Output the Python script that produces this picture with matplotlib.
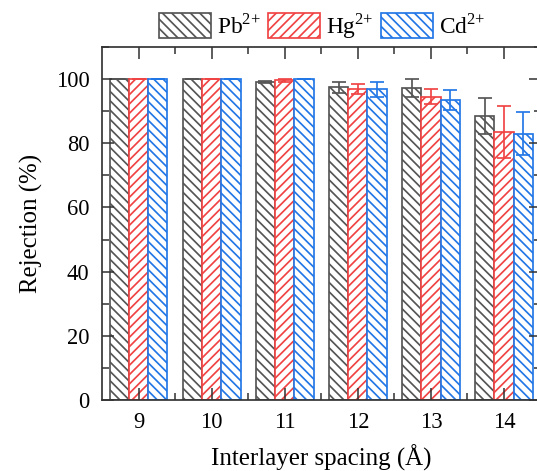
import numpy as np
import matplotlib
matplotlib.use("Agg")
import matplotlib.pyplot as plt
from matplotlib.ticker import FixedLocator, MultipleLocator

plt.rcParams['font.family'] = ['Liberation Serif', 'DejaVu Serif']
plt.rcParams['mathtext.fontset'] = 'custom'
plt.rcParams['mathtext.rm'] = 'Liberation Serif'
plt.rcParams['hatch.linewidth'] = 1.1

# data
spacing = ['9', '10', '11', '12', '13', '14']
pb = [100, 100, 99.1, 97.4, 97.1, 88.5]
pb_err = [0, 0, 0.4, 1.7, 2.8, 5.7]
hg = [100, 100, 99.6, 96.9, 94.5, 83.5]
hg_err = [0, 0, 0.5, 1.5, 2.4, 8.0]
cd = [100, 100, 100, 96.8, 93.5, 83.0]
cd_err = [0, 0, 0, 2.4, 3.0, 6.8]

series = [
    (r'Pb$^{\mathrm{2{+}}}$', pb, pb_err, '#555555', '\\\\\\\\'),
    (r'Hg$^{\mathrm{2{+}}}$', hg, hg_err, '#f04343', '////'),
    (r'Cd$^{\mathrm{2{+}}}$', cd, cd_err, '#2277e6', '\\\\\\\\'),
]

dpi = 112
fig = plt.figure(figsize=(537.01 / dpi, 471.01 / dpi), dpi=dpi)
ax = fig.add_axes([102 / 537, 71 / 471, 438.5 / 537, 353 / 471])

x = np.arange(len(spacing))
w = 0.264
for i, (label, vals, errs, col, hatch) in enumerate(series):
    pos = x + (i - 1) * w
    ax.bar(pos, vals, w, facecolor='white', edgecolor=col, hatch=hatch,
           linewidth=1.1, label=label)
    ax.errorbar(pos, vals, yerr=errs, fmt='none', ecolor=col,
                elinewidth=1.1, capsize=4.5, capthick=1.1)

ax.set_xlim(-0.5, 5.5)
ax.set_ylim(0, 110)
ax.set_xticks(x)
ax.set_xticklabels(spacing)
ax.xaxis.set_minor_locator(FixedLocator([0.5, 1.5, 2.5, 3.5, 4.5]))
ax.set_yticks([0, 20, 40, 60, 80, 100])
ax.yaxis.set_minor_locator(MultipleLocator(10))
ax.tick_params(which='both', direction='in', top=True, right=True,
               width=1.0, color='#333333', labelsize=14.5, pad=8)
ax.tick_params(which='major', length=8)
ax.tick_params(which='minor', length=4.5)
for s in ax.spines.values():
    s.set_linewidth(1.1)
    s.set_color('#333333')

ax.set_xlabel('Interlayer spacing (Å)', fontsize=16, labelpad=7)
ax.set_ylabel('Rejection (%)', fontsize=16, labelpad=8)

fig.legend(loc='center', bbox_to_anchor=(322 / 537, 1 - 26 / 471), ncol=3,
           frameon=False, fontsize=15, handlelength=2.25, handleheight=1.3,
           handletextpad=0.25, columnspacing=0.3, borderaxespad=0)

fig.savefig('out.png', dpi=dpi)
